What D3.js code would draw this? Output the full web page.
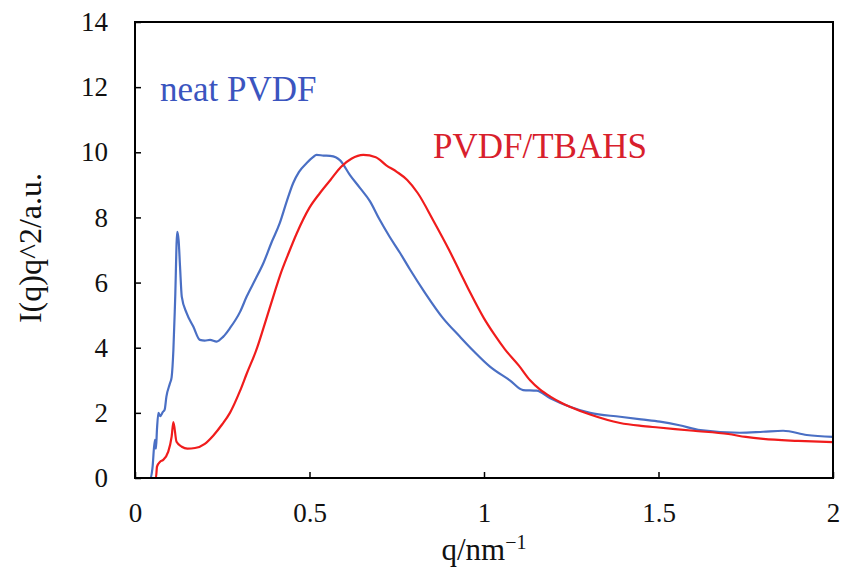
<!DOCTYPE html>
<html>
<head>
<meta charset="utf-8">
<script src="https://cdn.jsdelivr.net/npm/d3@7"></script>
<style>
  html, body { margin: 0; padding: 0; background: #fff; }
  svg { display: block; }
  text { font-family: "Liberation Serif", "Times New Roman", serif; }
</style>
</head>
<body>
<svg id="chart" width="846" height="574"></svg>
<script>
// ---- data ----
const xTicks = [0, 0.5, 1, 1.5, 2];
const xTickLabels = ["0", "0.5", "1", "1.5", "2"];
const yTicks = [0, 2, 4, 6, 8, 10, 12, 14];

const neatQ = [0, 0.045, 0.05, 0.057, 0.06, 0.063, 0.067, 0.072, 0.08, 0.085, 0.09, 0.1, 0.105, 0.11, 0.115, 0.121, 0.125, 0.129, 0.134, 0.148, 0.167, 0.186, 0.2, 0.215, 0.234, 0.253, 0.272, 0.301, 0.32, 0.345, 0.368, 0.39, 0.415, 0.435, 0.453, 0.47, 0.492, 0.51, 0.52, 0.54, 0.559, 0.575, 0.587, 0.616, 0.645, 0.673, 0.7, 0.73, 0.76, 0.788, 0.83, 0.883, 0.93, 0.97, 1.017, 1.074, 1.112, 1.151, 1.19, 1.246, 1.304, 1.39, 1.45, 1.504, 1.56, 1.62, 1.733, 1.8, 1.857, 1.925, 2.0];
const neatI = [0, 0, 0.3, 1.17, 0.9, 1.5, 2.0, 1.9, 2.03, 2.1, 2.5, 2.9, 3.1, 3.93, 5.47, 7.56, 7.3, 6.5, 5.57, 5.06, 4.65, 4.24, 4.22, 4.24, 4.19, 4.34, 4.6, 5.1, 5.57, 6.1, 6.6, 7.2, 7.83, 8.5, 9.05, 9.4, 9.67, 9.85, 9.92, 9.9, 9.89, 9.85, 9.76, 9.3, 8.9, 8.5, 7.95, 7.4, 6.9, 6.4, 5.7, 4.9, 4.35, 3.9, 3.42, 3.0, 2.7, 2.68, 2.45, 2.19, 2.0, 1.88, 1.8, 1.73, 1.62, 1.47, 1.39, 1.42, 1.45, 1.32, 1.26];

const tbahsQ = [0, 0.06, 0.063, 0.072, 0.08, 0.095, 0.105, 0.11, 0.119, 0.134, 0.15, 0.172, 0.2, 0.224, 0.25, 0.272, 0.3, 0.32, 0.35, 0.368, 0.4, 0.415, 0.44, 0.463, 0.5, 0.53, 0.56, 0.59, 0.62, 0.654, 0.69, 0.72, 0.75, 0.78, 0.81, 0.855, 0.9, 0.93, 0.96, 1.0, 1.03, 1.06, 1.1, 1.132, 1.16, 1.19, 1.22, 1.246, 1.304, 1.39, 1.45, 1.5, 1.6, 1.7, 1.75, 1.8, 1.9, 2.0];
const tbahsI = [0, 0, 0.35, 0.5, 0.55, 0.8, 1.27, 1.72, 1.11, 0.96, 0.9, 0.92, 1.05, 1.3, 1.65, 2.0, 2.65, 3.2, 4.0, 4.6, 5.7, 6.2, 6.9, 7.5, 8.3, 8.75, 9.15, 9.55, 9.8, 9.92, 9.85, 9.6, 9.4, 9.15, 8.75, 7.9, 7.0, 6.35, 5.7, 4.9, 4.4, 3.95, 3.45, 3.0, 2.72, 2.5, 2.32, 2.19, 1.95, 1.69, 1.6, 1.55, 1.45, 1.35, 1.26, 1.2, 1.14, 1.1];

const seriesNames = ["neat PVDF", "PVDF/TBAHS"];

// ---- layout ----
const svg = d3.select("#chart");
const W = 846, H = 574;
const m = { left: 135, top: 22, right: 13, bottom: 96 };
const iw = W - m.left - m.right, ih = H - m.top - m.bottom;

const x = d3.scaleLinear().domain([0, 2]).range([0, iw]);
const y = d3.scaleLinear().domain([0, 14]).range([ih, 0]);

const g = svg.append("g").attr("transform", `translate(${m.left},${m.top})`);

// axes (inward ticks)
const xAxis = d3.axisBottom(x).tickValues(xTicks)
  .tickFormat((d, i) => xTickLabels[i]).tickSize(-6).tickPadding(25);
const yAxis = d3.axisLeft(y).tickValues(yTicks)
  .tickFormat(d3.format("d")).tickSize(-6).tickPadding(27);

const gx = g.append("g").attr("transform", `translate(0,${ih})`).call(xAxis);
const gy = g.append("g").call(yAxis);
[gx, gy].forEach(a => {
  a.select(".domain").remove();
  a.selectAll(".tick line").attr("stroke", "#000").attr("stroke-width", 1.5);
  a.selectAll(".tick text").attr("fill", "#111")
    .style("font-size", "27px").style("font-family", '"Liberation Serif", "Times New Roman", serif');
});

// lines
const line = d3.line().x(d => x(d[0])).y(d => y(d[1])).curve(d3.curveMonotoneX);
const neat = neatQ.map((q, i) => [q, neatI[i]]);
const tbahs = tbahsQ.map((q, i) => [q, tbahsI[i]]);

g.append("path").datum(neat).attr("d", line)
  .attr("fill", "none").attr("stroke", "#4a6fc4").attr("stroke-width", 2.2)
  .attr("stroke-linejoin", "round");
g.append("path").datum(tbahs).attr("d", line)
  .attr("fill", "none").attr("stroke", "#f01c1c").attr("stroke-width", 2.2)
  .attr("stroke-linejoin", "round");

// frame
g.append("rect").attr("x", 0).attr("y", 0).attr("width", iw).attr("height", ih)
  .attr("fill", "none").attr("stroke", "#000").attr("stroke-width", 2);

// series labels
svg.append("text").attr("x", 160).attr("y", 101)
  .attr("fill", "#3b55bf").style("font-size", "35px").text(seriesNames[0]);
svg.append("text").attr("x", 433).attr("y", 158)
  .attr("fill", "#d8202c").style("font-size", "35px").text(seriesNames[1]);

// axis titles
const xt = svg.append("text").attr("x", 484).attr("y", 560)
  .attr("text-anchor", "middle").attr("fill", "#111").style("font-size", "31px");
xt.append("tspan").text("q/nm");
xt.append("tspan").attr("dy", -11).style("font-size", "20px").text("−1");

svg.append("text")
  .attr("transform", "translate(41,248) rotate(-90)")
  .attr("text-anchor", "middle").attr("fill", "#111").style("font-size", "32px")
  .text("I(q)q^2/a.u.");
</script>
</body>
</html>
